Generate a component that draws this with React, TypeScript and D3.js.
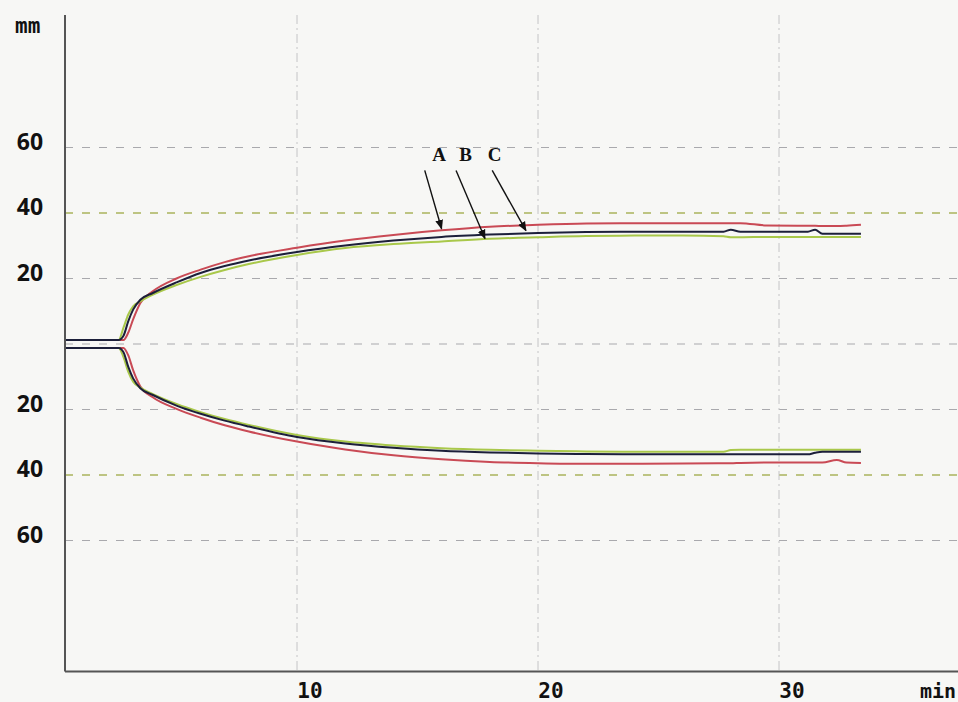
import React from "react";
import * as d3 from "d3";

// ---- data ----
const time = [0.4, 2.6, 2.8, 3.0, 3.2, 3.5, 4, 5, 6, 7, 8, 10, 12, 14, 16, 18, 20, 22, 24, 26, 27.7, 28.0, 28.4, 29.5, 31.2, 31.5, 31.8, 32.4, 32.8, 33.4];

const upperA = [1.2, 1.2, 1.2, 3.5, 7.5, 12.5, 16, 20, 22.7, 25, 26.8, 29.4, 31.6, 33.3, 34.7, 35.8, 36.4, 36.8, 36.9, 36.9, 36.9, 36.9, 36.9, 36.2, 36.1, 36.1, 36.0, 36.0, 36.1, 36.4];
const upperB = [1.2, 1.2, 2.5, 7, 10.5, 13.5, 15.5, 18.8, 21.7, 23.8, 25.5, 28.1, 30.1, 31.6, 32.7, 33.4, 33.9, 34.2, 34.3, 34.3, 34.3, 34.9, 34.3, 34.3, 34.3, 34.9, 33.7, 33.7, 33.7, 33.7];
const upperC = [1.2, 1.2, 5, 9, 11.5, 13, 15, 18, 20.5, 22.6, 24.4, 27.2, 29.3, 30.5, 31.3, 32.1, 32.6, 33.0, 33.1, 33.1, 32.9, 32.6, 32.6, 32.7, 32.7, 32.7, 32.7, 32.7, 32.7, 32.7];

const lowerA = [-1.2, -1.2, -1.2, -3.5, -8, -13, -16.2, -19.8, -22.5, -24.8, -26.7, -29.8, -32.2, -34, -35.2, -36, -36.4, -36.6, -36.6, -36.5, -36.4, -36.4, -36.3, -36.2, -36.2, -36.2, -36.2, -35.4, -36.2, -36.3];
const lowerB = [-1.2, -1.2, -2.5, -7, -10.5, -13.5, -15.5, -18.8, -21.3, -23.4, -25.2, -28.4, -30.4, -31.7, -32.6, -33.1, -33.4, -33.6, -33.7, -33.7, -33.7, -33.7, -33.7, -33.7, -33.7, -33.2, -32.9, -32.9, -32.9, -32.9];
const lowerC = [-1.2, -1.2, -4, -8.5, -11.5, -13.3, -15.2, -18.3, -20.8, -22.9, -24.7, -27.8, -29.8, -31.0, -31.8, -32.3, -32.6, -32.8, -32.9, -32.9, -32.9, -32.4, -32.3, -32.3, -32.3, -32.3, -32.3, -32.3, -32.3, -32.3];

const xTicks = [10, 20, 30];
const xTickLabels = ["10", "20", "30"];
const yGrid = [60, 40, 20, 0, -20, -40, -60];
const yTickValues = [60, 40, 20, -20, -40, -60];
const yTickLabels = ["60", "40", "20", "20", "40", "60"];
const greenGrid = [40, -40];

const annLabels = ["A", "B", "C"];
const annLabelTime = [15.9, 17.0, 18.2];
const annLabelValue = [56, 56, 56];
const annStartTime = [15.3, 16.6, 18.1];
const annStartValue = [53, 53, 53];
const annTipTime = [16.0, 17.8, 19.5];
const annTipValue = [35.2, 32.2, 34.6];

const W = 958;
const H = 702;

export default function App() {
  const x = d3.scaleLinear().domain([10, 30]).range([297, 779]);
  const y = d3.scaleLinear().domain([-100, 100]).range([671.5, 16.5]);
  const axisX = 65;
  const axisBottom = y(-100);
  const axisTop = 15;

  const line = d3
    .line<number>()
    .x((_, i) => x(time[i]))
    .y((d) => y(d))
    .curve(d3.curveMonotoneX);

  const series = [
    { data: upperA, color: "#c94a55" },
    { data: lowerA, color: "#c94a55" },
    { data: upperC, color: "#a9c84a" },
    { data: lowerC, color: "#a9c84a" },
    { data: upperB, color: "#1c1f3a" },
    { data: lowerB, color: "#1c1f3a" },
  ];

  return (
    <svg
      width={W}
      height={H}
      style={{ position: "absolute", left: 0, top: 0 }}
      xmlns="http://www.w3.org/2000/svg"
    >
      <defs>
        <marker id="ah" viewBox="0 0 10 10" refX="9" refY="5" markerWidth="7" markerHeight="7" orient="auto">
          <path d="M0,1 L10,5 L0,9 z" fill="#111" />
        </marker>
      </defs>
      <rect x={0} y={0} width={W} height={H} fill="#f7f7f5" />

      {/* horizontal grid */}
      {yGrid.map((v) => (
        <line
          key={"h" + v}
          x1={axisX}
          x2={W}
          y1={y(v)}
          y2={y(v)}
          stroke={greenGrid.includes(v) ? "#aab45c" : "#a9a9ad"}
          strokeWidth={greenGrid.includes(v) ? 1.6 : 1}
          strokeDasharray="8,9"
        />
      ))}
      {/* vertical grid */}
      {xTicks.map((v) => (
        <line
          key={"v" + v}
          x1={x(v)}
          x2={x(v)}
          y1={axisTop}
          y2={axisBottom}
          stroke="#c4c4c6"
          strokeWidth={1}
          strokeDasharray="9,4,2,4"
        />
      ))}

      {/* series */}
      {series.map((s, i) => (
        <path key={i} d={line(s.data) || ""} fill="none" stroke={s.color} strokeWidth={2} />
      ))}

      {/* axes */}
      <line x1={axisX} x2={axisX} y1={axisTop} y2={axisBottom} stroke="#555" strokeWidth={2} />
      <line x1={axisX} x2={W} y1={axisBottom} y2={axisBottom} stroke="#555" strokeWidth={2} />

      {/* y labels */}
      {yTickValues.map((v, i) => (
        <text
          key={"yl" + i}
          x={30}
          y={y(v) - 4}
          textAnchor="middle"
          dominantBaseline="middle"
          fontFamily="'Open Sans', sans-serif"
          fontWeight={700}
          fontSize={23}
          fill="#111"
        >
          {yTickLabels[i]}
        </text>
      ))}
      <text x={15} y={33} fontFamily="'DejaVu Sans Mono', monospace" fontWeight={700} fontSize={21} fill="#111">
        mm
      </text>

      {/* x labels */}
      {xTicks.map((v, i) => (
        <text
          key={"xl" + v}
          x={x(v) + 13}
          y={698}
          textAnchor="middle"
          fontFamily="'DejaVu Sans Mono', monospace"
          fontWeight={700}
          fontSize={21}
          fill="#111"
        >
          {xTickLabels[i]}
        </text>
      ))}
      <text x={W - 2} y={698} textAnchor="end" fontFamily="'DejaVu Sans Mono', monospace" fontWeight={700} fontSize={20} fill="#111">
        min
      </text>

      {/* annotations */}
      {annLabels.map((l, i) => (
        <g key={"ann" + l}>
          <line
            x1={x(annStartTime[i])}
            y1={y(annStartValue[i])}
            x2={x(annTipTime[i])}
            y2={y(annTipValue[i])}
            stroke="#111"
            strokeWidth={1.4}
            markerEnd="url(#ah)"
          />
          <text
            x={x(annLabelTime[i])}
            y={y(annLabelValue[i])}
            textAnchor="middle"
            fontFamily="'Liberation Serif', 'DejaVu Serif', serif"
            fontWeight={700}
            fontSize={19}
            fill="#111"
          >
            {l}
          </text>
        </g>
      ))}
    </svg>
  );
}
